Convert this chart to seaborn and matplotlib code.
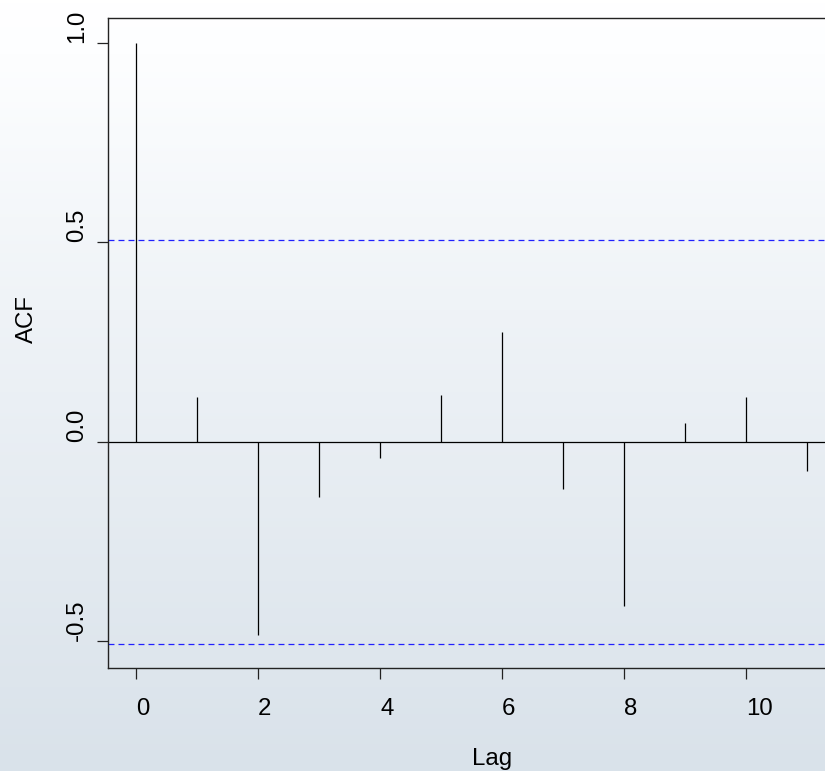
import numpy as np
import matplotlib
matplotlib.use("Agg")
import matplotlib.pyplot as plt
from matplotlib.colors import LinearSegmentedColormap
import seaborn as sns

# Autocorrelation estimates by lag
lags = [0, 1, 2, 3, 4, 5, 6, 7, 8, 9, 10, 11]
acf_values = [1.0, 0.112, -0.485, -0.138, -0.041, 0.118, 0.275, -0.119,
              -0.411, 0.046, 0.112, -0.073]
conf_limit = 0.506  # approximate 95% band

ytick_vals = [-0.5, 0.0, 0.5, 1.0]
ytick_text = ["-0.5", "0.0", "0.5", "1.0"]
xtick_vals = [0, 2, 4, 6, 8, 10]
xtick_text = ["0", "2", "4", "6", "8", "10"]

sns.set_theme(style="white")
plt.rcParams["font.family"] = ["Liberation Sans", "DejaVu Sans"]
plt.rcParams["axes.unicode_minus"] = False
plt.rcParams["lines.scale_dashes"] = False

W, H, DPI = 825, 771, 100
fig = plt.figure(figsize=(W / DPI, H / DPI), dpi=DPI)

# soft vertical backdrop
bg = fig.add_axes([0, 0, 1, 1], zorder=0)
cmap = LinearSegmentedColormap.from_list(
    "backdrop",
    [(0.0, "#ffffff"), (0.07, "#fdfeff"), (0.4, "#eff3f7"), (1.0, "#d9e2ea")])
grad = np.linspace(0, 1, 256).reshape(-1, 1)
bg.imshow(grad, aspect="auto", cmap=cmap, extent=[0, 1, 0, 1], origin="upper")
bg.set_axis_off()

# plot region in pixel terms
left_px, right_px, top_px, bottom_px = 108, 836, 18, 668
ax = fig.add_axes([left_px / W, 1 - bottom_px / H,
                   (right_px - left_px) / W, (bottom_px - top_px) / H], zorder=1)
ax.set_facecolor("none")

ax.set_xlim(-0.4644, 11.482)
ax.set_ylim(-0.5674, 1.0617)

fs = 17.3
ax.vlines(lags, 0, acf_values, color="black", linewidth=0.9)
ax.axhline(0, color="black", linewidth=0.9)
for c in (conf_limit, -conf_limit):
    ax.axhline(c, color="#2020ff", linewidth=0.9, linestyle=(0, (4.3, 2.9)))

for s in ax.spines.values():
    s.set_color("#222222")
    s.set_linewidth(1.0)
    s.set_visible(True)

ax.set_xticks(xtick_vals)
ax.set_xticklabels(xtick_text)
ax.set_yticks(ytick_vals)
ax.set_yticklabels(ytick_text)
ax.tick_params(axis="both", direction="out", length=7.9, width=0.9,
               color="#222222", labelsize=fs, labelcolor="black",
               bottom=True, left=True)
ax.tick_params(axis="x", pad=13.5)
ax.tick_params(axis="y", pad=6.5)
for lab in ax.get_xticklabels():
    lab.set_ha("left")
for lab in ax.get_yticklabels():
    lab.set_rotation(90)
    lab.set_va("bottom")
    lab.set_ha("right")

ax.set_xlabel("Lag", fontsize=fs, color="black")
ax.xaxis.label.set_ha("left")
ax.xaxis.label.set_va("baseline")
ax.xaxis.set_label_coords(0.5, -(765 - bottom_px) / (bottom_px - top_px))

ax.set_ylabel("ACF", fontsize=fs, color="black")
ax.yaxis.label.set_rotation_mode("anchor")
ax.yaxis.label.set_ha("left")
ax.yaxis.label.set_va("baseline")
ax.yaxis.set_label_coords(-(left_px - 33) / (right_px - left_px), 0.5)

fig.savefig("out.png", dpi=DPI)
